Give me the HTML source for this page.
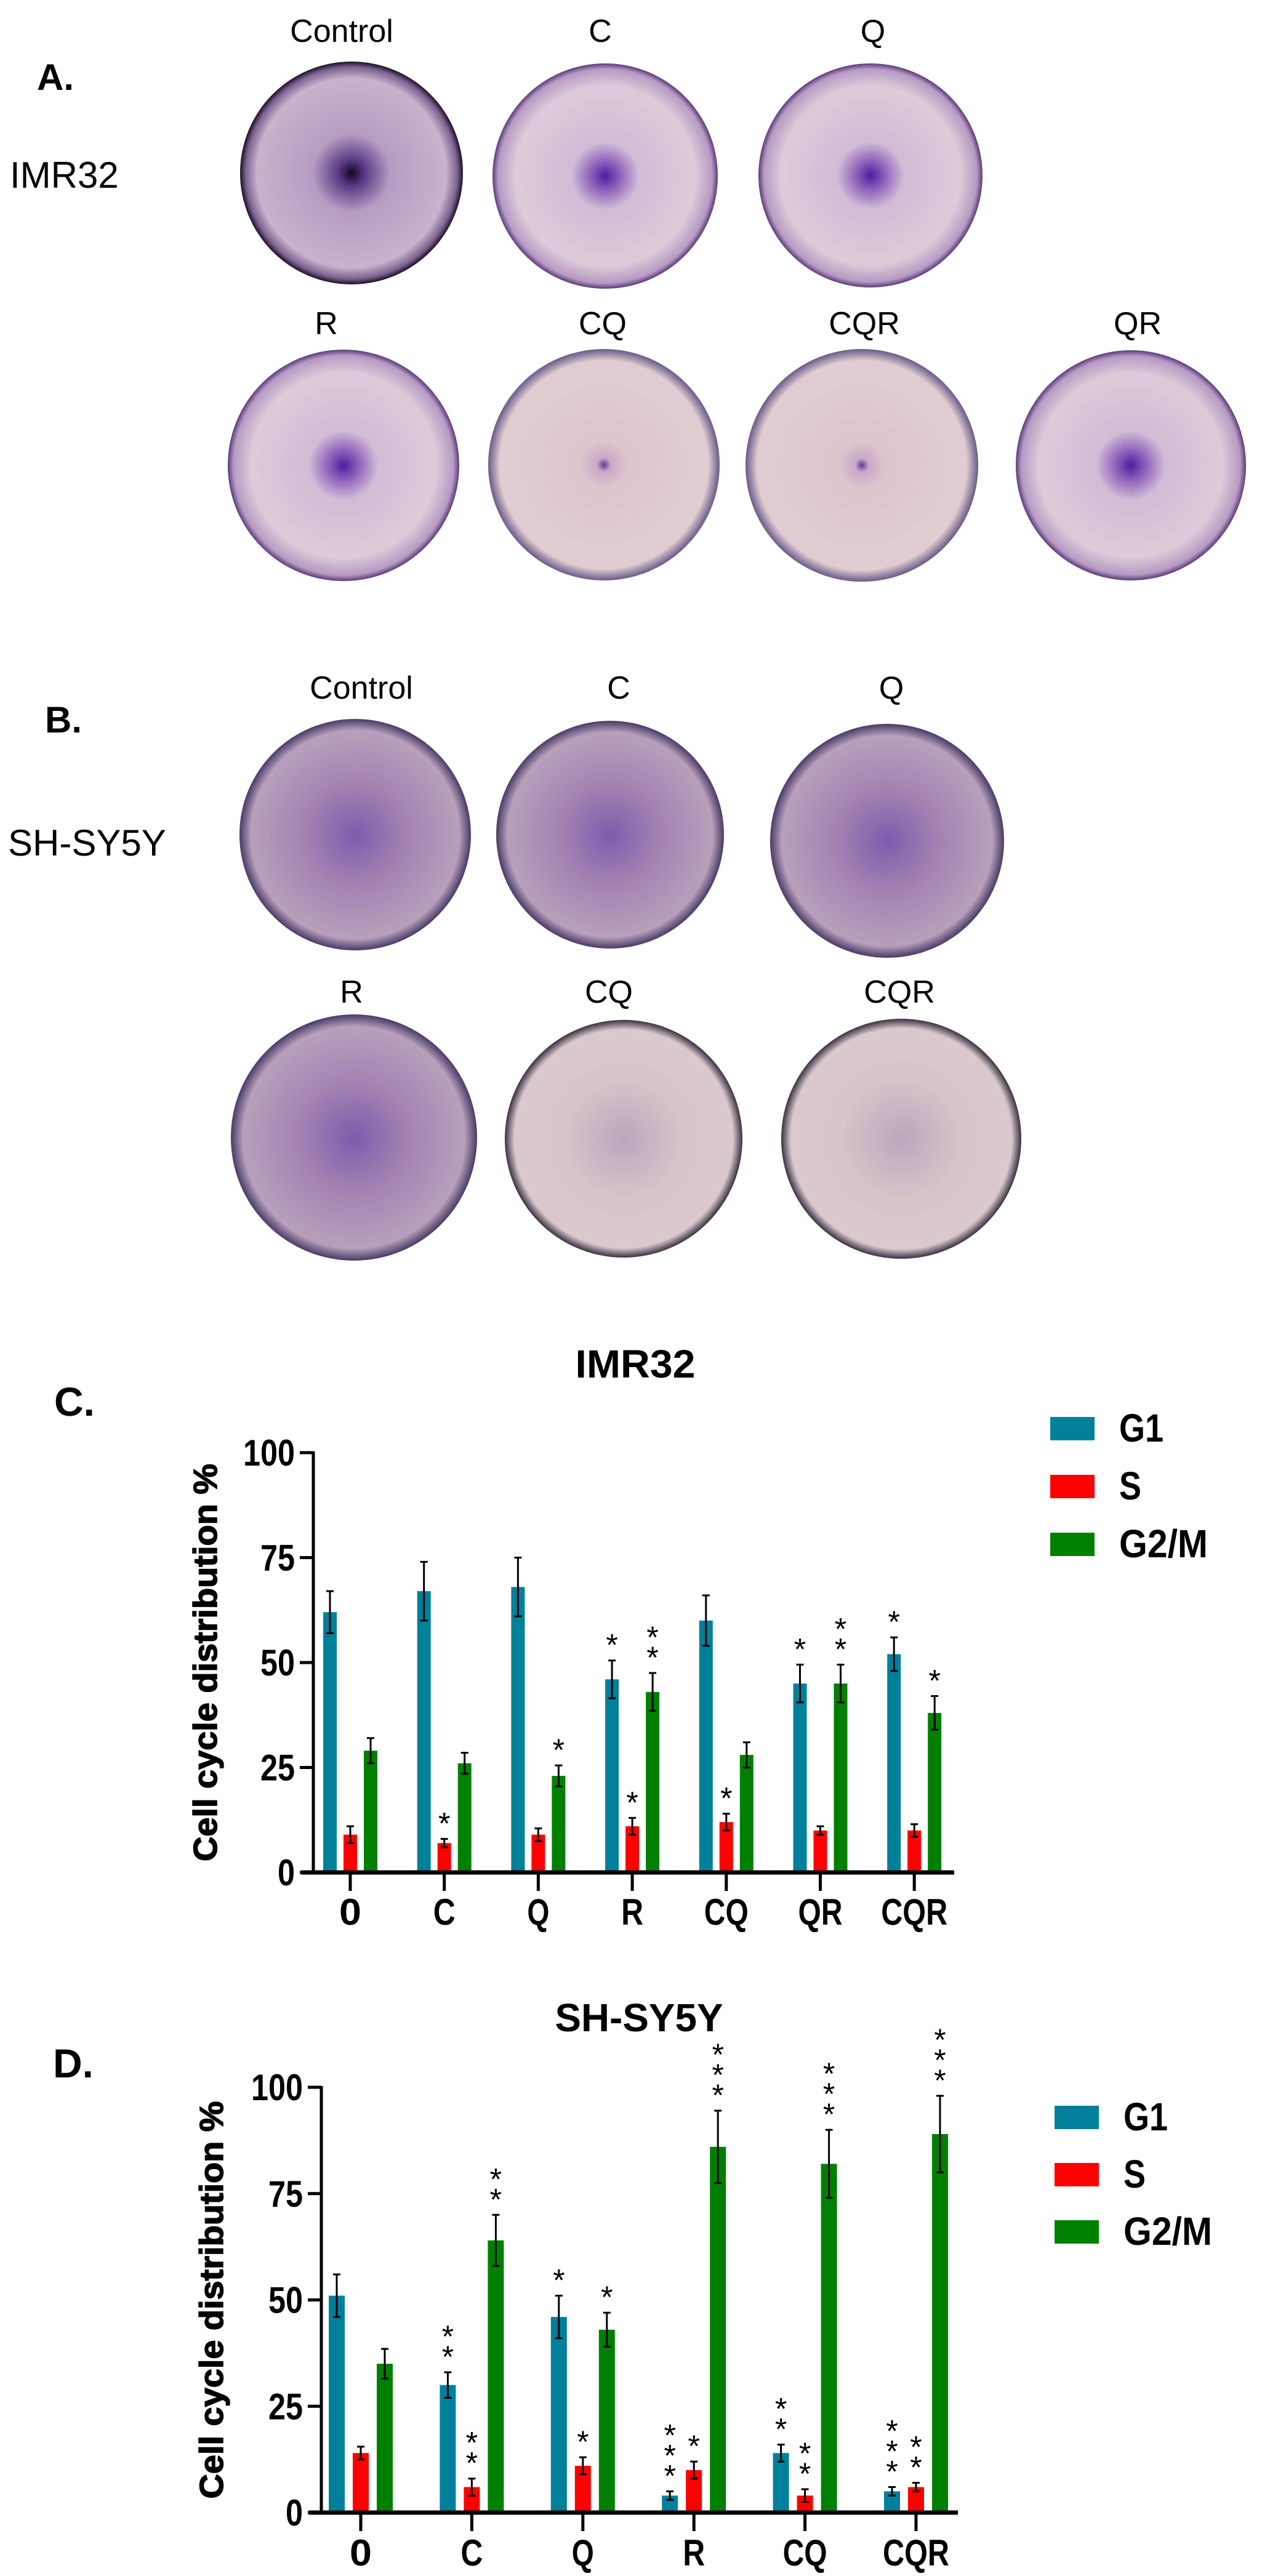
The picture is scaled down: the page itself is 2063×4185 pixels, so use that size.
<!DOCTYPE html>
<html><head><meta charset="utf-8">
<style>
html,body{margin:0;padding:0;background:#fff;}
svg{display:block;}
.lab{font-family:"Liberation Sans",sans-serif;fill:#000;}
.nar{font-family:"Liberation Sans Narrow","Liberation Sans",sans-serif;font-weight:bold;fill:#000;}
</style></head>
<body>
<svg id="fig" width="2063" height="4185" viewBox="0 0 2063 4185" xmlns="http://www.w3.org/2000/svg">
<defs>
 <radialGradient id="gImr" cx="50%" cy="50%" r="50%">
  <stop offset="0" stop-color="#4a1fa0"/><stop offset="0.12" stop-color="#8a5cb8"/>
  <stop offset="0.3" stop-color="#d2bcd6"/><stop offset="0.8" stop-color="#dccbd8"/>
  <stop offset="0.95" stop-color="#b79ac4"/><stop offset="1" stop-color="#5a3c7a"/></radialGradient>
 <radialGradient id="gCtl" cx="50%" cy="50%" r="50%">
  <stop offset="0" stop-color="#140820"/><stop offset="0.12" stop-color="#5a3a86"/>
  <stop offset="0.35" stop-color="#b79cc2"/><stop offset="0.85" stop-color="#c8b2cc"/>
  <stop offset="0.95" stop-color="#7d6290"/><stop offset="1" stop-color="#1a1028"/></radialGradient>
 <radialGradient id="gPale" cx="50%" cy="50%" r="50%">
  <stop offset="0" stop-color="#5a3a9a"/><stop offset="0.06" stop-color="#c9a9c8"/>
  <stop offset="0.2" stop-color="#dcc5cc"/><stop offset="0.9" stop-color="#e0cdd2"/>
  <stop offset="1" stop-color="#6a5a88"/></radialGradient>
 <radialGradient id="gSh" cx="50%" cy="50%" r="50%">
  <stop offset="0" stop-color="#7f5cad"/><stop offset="0.45" stop-color="#a483b2"/>
  <stop offset="0.9" stop-color="#b7a0bb"/><stop offset="1" stop-color="#4a3a66"/></radialGradient>
 <radialGradient id="gShPale" cx="50%" cy="50%" r="50%">
  <stop offset="0" stop-color="#bca6bd"/><stop offset="0.5" stop-color="#d6c4c8"/>
  <stop offset="0.92" stop-color="#d9c9cc"/><stop offset="1" stop-color="#3a3040"/></radialGradient>
</defs>

<!-- Panel A -->
<text class="lab" x="60" y="146" font-size="60" font-weight="bold">A.</text>
<text class="lab" x="16" y="305" font-size="60">IMR32</text>
<g class="lab" font-size="52" text-anchor="middle">
 <text x="555" y="68">Control</text>
 <text x="975" y="68">C</text>
 <text x="1418" y="68">Q</text>
 <text x="530" y="543">R</text>
 <text x="979" y="543">CQ</text>
 <text x="1404" y="543">CQR</text>
 <text x="1848" y="543">QR</text>
</g>
<circle cx="571" cy="281" r="181" fill="url(#gCtl)"/>
<circle cx="983" cy="286" r="183" fill="url(#gImr)"/>
<circle cx="1414" cy="285" r="182" fill="url(#gImr)"/>
<circle cx="558" cy="756" r="188" fill="url(#gImr)"/>
<circle cx="981" cy="755" r="188" fill="url(#gPale)"/>
<circle cx="1400" cy="756" r="189" fill="url(#gPale)"/>
<circle cx="1837" cy="756" r="187" fill="url(#gImr)"/>

<!-- Panel B -->
<text class="lab" x="73" y="1190" font-size="60" font-weight="bold">B.</text>
<text class="lab" x="13" y="1390" font-size="60">SH-SY5Y</text>
<g class="lab" font-size="52" text-anchor="middle">
 <text x="587" y="1135">Control</text>
 <text x="1005" y="1135">C</text>
 <text x="1448" y="1135">Q</text>
 <text x="571" y="1629">R</text>
 <text x="989" y="1629">CQ</text>
 <text x="1461" y="1629">CQR</text>
</g>
<circle cx="577" cy="1356" r="188" fill="url(#gSh)"/>
<circle cx="991" cy="1356" r="185" fill="url(#gSh)"/>
<circle cx="1441" cy="1366" r="190" fill="url(#gSh)"/>
<circle cx="575" cy="1848" r="200" fill="url(#gSh)"/>
<circle cx="1013" cy="1850" r="193" fill="url(#gShPale)"/>
<circle cx="1464" cy="1850" r="195" fill="url(#gShPale)"/>

<!-- Panel C / D labels -->
<text class="nar" x="88" y="2300" font-size="66">C.</text>
<text class="nar" x="86" y="3375" font-size="66">D.</text>
<g id="chartC"></g>
<g id="chartD"></g>
</svg>

<script>
// ---- Chart C data (IMR32) ----
const cCategories = ["0","C","Q","R","CQ","QR","CQR"];
const cG1 = [62,67,68,46,60,45,52];
const cG1Err = [5,7,7,4.5,6,4.5,4];
const cS = [9,7,9,11,12,10,10];
const cSErr = [2,1,1.5,2,2,1,1.5];
const cG2M = [29,26,23,43,28,45,38];
const cG2MErr = [3,2.5,2.5,4.5,3,4.5,4];
const cG1Stars = [0,0,0,1,0,1,1];
const cSStars = [0,1,0,1,1,0,0];
const cG2MStars = [0,0,1,2,0,2,1];
// ---- Chart D data (SH-SY5Y) ----
const dCategories = ["0","C","Q","R","CQ","CQR"];
const dG1 = [51,30,46,4,14,5];
const dG1Err = [5,3,5,1,2,1];
const dS = [14,6,11,10,4,6];
const dSErr = [1.5,2,2,2,1.5,1];
const dG2M = [35,64,43,86,82,89];
const dG2MErr = [3.5,6,4,8.5,8,9];
const dG1Stars = [0,2,1,3,2,3];
const dSStars = [0,2,1,1,2,2];
const dG2MStars = [0,2,1,3,3,3];
const yTicks = [0,25,50,75,100];
const seriesNames = ["G1","S","G2/M"];
const seriesColors = ["#00809b","#ff0000","#008000"];

const NS = "http://www.w3.org/2000/svg";
function mk(parent, tag, attrs, text){
  const e = document.createElementNS(NS, tag);
  for (const k in attrs) e.setAttribute(k, attrs[k]);
  if (text !== undefined) e.textContent = text;
  parent.appendChild(e);
  return e;
}

function drawChart(g, o){
  const yScale = v => o.y0 - v * (o.y0 - o.y100) / 100;
  const xScale = i => o.xFirst + i * o.step;
  const t = mk(g,'text',{x:o.titleX,y:o.titleY,'font-size':64,'text-anchor':'middle',class:'nar',textLength:o.title.length*39,lengthAdjust:'spacingAndGlyphs'},o.title);
  
  
  const yt = mk(g,'text',{x:0,y:0,'font-size':54,'font-weight':'900','text-anchor':'middle',class:'lab',stroke:'#000','stroke-width':1.5,
    transform:`translate(${o.ytX},${(o.y0+o.y100)/2}) rotate(-90)`,textLength:646,lengthAdjust:'spacingAndGlyphs'},'Cell cycle distribution %');
  
  
  const vals=[o.g1,o.s,o.g2];
  const errs=[o.g1e,o.se,o.g2e];
  const stars=[o.g1s,o.ss,o.g2s];
  const names=['bar-g1','bar-s','bar-g2m'];
  for (let i=0;i<o.cats.length;i++){
    for (let k=0;k<3;k++){
      const cx = xScale(i) + (k-1)*o.off;
      const v = vals[k][i], e = errs[k][i];
      const r = mk(g,'rect',{x:cx-o.bw/2,y:yScale(v),width:o.bw,height:yScale(0)-yScale(v),fill:seriesColors[k]});
      
      
      const eb = mk(g,'path',{d:`M${cx},${yScale(v+e)}V${yScale(v-e)}M${cx-6},${yScale(v+e)}H${cx+6}M${cx-6},${yScale(v-e)}H${cx+6}`,stroke:'#000','stroke-width':3,fill:'none'});
      
      
      for (let s=0;s<stars[k][i];s++){
        const st = mk(g,'text',{x:cx,y:yScale(v+e)-8-s*o.starGap,'font-size':50,'text-anchor':'middle',class:'lab'},'*');
        
        
      }
    }
    const tk = mk(g,'line',{x1:xScale(i),x2:xScale(i),y1:o.y0,y2:o.y0+30,stroke:'#000','stroke-width':5});
    
    
    const tl = mk(g,'text',{x:xScale(i),y:o.catY,'font-size':60,'text-anchor':'middle',class:'nar',textLength:o.cats[i].length*36,lengthAdjust:'spacingAndGlyphs'},o.cats[i]);
    
    
  }
  const ya = mk(g,'line',{x1:o.axX,x2:o.axX,y1:o.y100-2,y2:o.y0,stroke:'#000','stroke-width':5});
  
  
  const xa = mk(g,'line',{x1:o.axX-20,x2:o.axEnd,y1:o.y0,y2:o.y0,stroke:'#000','stroke-width':7});
  
  
  yTicks.forEach(v=>{
    const l = mk(g,'line',{x1:o.axX-22,x2:o.axX,y1:yScale(v),y2:yScale(v),stroke:'#000','stroke-width':5});
    
    
    const s = String(v);
    const tx = mk(g,'text',{x:o.axX-30,y:yScale(v)+21,'font-size':60,'text-anchor':'end',class:'nar',textLength:s.length*28,lengthAdjust:'spacingAndGlyphs'},s);
    
    
  });
  seriesNames.forEach((n,k)=>{
    const ly = o.legY + k*o.legGap;
    const b = mk(g,'rect',{x:o.legX,y:ly,width:72,height:38,fill:seriesColors[k]});
    
    
    const lt = mk(g,'text',{x:o.legX+112,y:ly+40,'font-size':64,class:'nar','font-weight':'normal',textLength:n.length*36,lengthAdjust:'spacingAndGlyphs'},n);
    
    
  });
}

drawChart(document.getElementById('chartC'),{
  title:'IMR32',titleX:1032,titleY:2238,ytX:352,
  cats:cCategories,g1:cG1,g1e:cG1Err,s:cS,se:cSErr,g2:cG2M,g2e:cG2MErr,
  g1s:cG1Stars,ss:cSStars,g2s:cG2MStars,
  y0:3042,y100:2360,axX:509,axEnd:1550,xFirst:569,step:152.7,off:33,bw:22,
  catY:3127,starGap:33,legX:1706,legY:2302,legGap:94
});
drawChart(document.getElementById('chartD'),{
  title:'SH-SY5Y',titleX:1038,titleY:3300,ytX:362,
  cats:dCategories,g1:dG1,g1e:dG1Err,s:dS,se:dSErr,g2:dG2M,g2e:dG2MErr,
  g1s:dG1Stars,ss:dSStars,g2s:dG2MStars,
  y0:4082,y100:3391,axX:522,axEnd:1556,xFirst:586,step:180.4,off:39,bw:26,
  catY:4168,starGap:33,legX:1713,legY:3421,legGap:93
});
</script>
</body></html>
